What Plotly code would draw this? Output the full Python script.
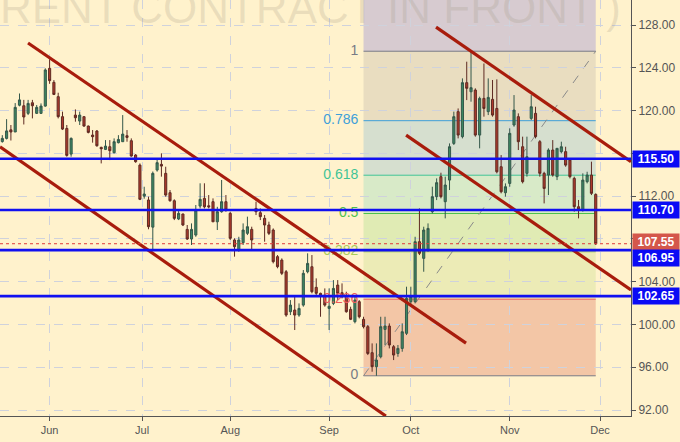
import plotly.graph_objects as go

# ---------------- data ----------------
opens = [117.1,117.4,118.2,118.0,120.5,120.45,119.74,120.73,119.74,119.74,
         120.42,123.95,122.64,121.3,119.43,118.33,115.93,119.58,119.02,119.43,
         118.55,117.71,118.09,116.56,116.37,116.62,116.06,117.0,117.09,117.65,
         117.18,115.84,114.9,112.0,111.64,109.1,114.44,114.97,114.13,112.32,
         111.57,109.86,110.33,108.89,107.99,108.36,111.07,111.79,111.1,111.48,
         109.6,110.54,111.48,110.39,107.9,106.96,107.65,108.52,108.89,110.85,
         110.45,109.92,109.3,108.83,106.34,106.02,104.93,101.19,101.35,100.88,
         101.81,104.93,105.4,103.47,102.91,102.75,101.5,101.97,103.68,102.97,
         102.66,101.41,100.26,102.13,100.48,99.79,97.36,96.05,96.98,99.54,
         99.85,97.92,97.29,97.76,99.17,102.13,102.13,107.74,106.18,106.96,
         110.54,111.95,113.82,111.48,113.5,116.93,119.9,117.56,122.61,121.76,
         121.92,117.71,121.14,119.9,121.05,120.2,114.75,112.32,113.19,118.65,
         119.43,116.62,114.13,119.27,119.74,117.09,114.13,113.97,116.31,113.82,
         116.16,116.16,115.37,113.66,111.01,110.7,113.35,113.97,112.16]
highs = [117.7,119.2,118.65,120.7,121.6,121.0,121.0,121.0,120.52,120.67,
         123.95,124.8,122.85,121.67,119.9,118.65,117.49,120.11,119.9,119.45,
         118.6,118.18,118.18,116.62,117.24,117.24,117.4,117.7,119.58,118.18,
         117.4,115.93,115.06,112.88,111.95,114.3,115.38,116.0,114.75,112.57,
         111.7,110.7,110.35,109.3,109.45,111.17,113.2,113.2,112.1,111.79,
         111.0,113.51,112.1,110.54,108.05,108.2,109.45,110.08,109.14,111.48,
         110.85,110.23,109.61,108.98,106.49,106.18,105.09,102.28,102.75,101.97,
         105.09,106.65,106.49,104.31,102.97,103.37,103.37,104.15,104.15,103.84,
         103.06,101.66,102.6,102.28,100.72,99.95,98.23,98.23,100.72,100.72,
         100.1,98.08,98.08,100.1,103.53,103.53,108.2,110.85,109.14,109.45,
         112.88,113.66,114.19,113.82,116.93,119.9,120.2,123.01,124.57,125.55,
         122.08,121.3,124.4,123.01,122.86,122.92,115.84,113.19,118.34,121.45,
         119.74,117.56,117.56,121.45,120.36,117.24,114.28,116.47,117.24,116.47,
         117.09,116.62,115.53,113.82,111.64,114.13,114.28,115.22,112.26]
lows = [117.0,117.3,117.2,118.0,120.4,118.7,119.58,119.27,119.68,119.68,
        120.36,122.5,121.45,119.27,118.18,115.69,115.69,118.96,118.65,118.49,
        117.87,117.0,116.62,115.06,116.31,115.37,116.0,116.93,117.09,117.09,
        115.69,115.12,111.63,111.76,108.9,106.96,114.29,113.82,111.95,111.48,
        109.76,109.76,109.2,107.9,107.43,108.2,110.85,110.85,110.85,109.6,
        108.83,110.45,110.54,107.9,106.34,106.8,107.43,108.36,106.96,110.23,
        109.76,107.74,108.36,105.71,105.25,104.62,100.72,100.88,99.48,100.72,
        101.66,104.78,102.91,102.75,100.72,101.66,99.48,101.81,102.28,102.44,
        101.1,100.41,100.1,100.57,99.63,97.14,95.58,95.2,96.83,98.08,
        97.76,96.67,96.98,97.45,99.01,101.66,101.97,106.49,104.93,106.8,
        110.39,111.63,111.79,109.92,112.57,116.78,117.4,117.4,120.98,120.83,
        117.56,116.47,119.43,119.58,119.43,114.13,112.26,111.95,112.88,118.49,
        116.31,113.19,113.82,119.12,117.4,113.82,111.32,112.1,113.82,113.5,
        116.0,114.75,113.66,110.55,109.92,110.55,113.19,112.1,107.43]
closes = [117.4,118.1,118.0,120.3,121.0,119.4,120.67,120.45,120.3,120.42,
          123.8,122.8,121.51,119.43,118.27,115.81,117.4,119.33,119.58,118.55,
          117.96,117.56,116.71,116.43,116.68,116.25,117.09,117.3,117.8,117.49,
          115.75,115.22,111.7,112.2,109.14,114.13,115.13,114.81,112.1,111.57,
          109.92,110.39,109.3,107.99,108.89,110.7,111.7,111.0,111.0,109.6,
          110.54,111.48,110.7,108.05,107.27,107.9,108.83,109.14,107.9,110.54,
          110.08,109.3,108.52,105.87,105.4,104.78,100.88,101.81,100.88,101.5,
          104.78,105.71,103.06,102.91,102.75,101.81,101.7,103.37,102.91,102.6,
          101.19,100.48,102.28,100.72,99.79,97.29,96.05,96.67,99.79,99.85,
          98.08,97.14,97.76,99.32,102.44,102.6,107.74,106.65,108.83,108.98,
          111.95,113.26,111.95,113.04,116.62,119.43,117.71,122.61,122.08,122.14,
          117.71,121.14,120.2,121.23,119.58,114.28,112.41,112.88,117.87,120.05,
          117.09,113.35,115.68,120.36,117.56,114.13,112.72,116.31,113.97,116.47,
          116.62,114.9,113.82,111.01,110.76,113.5,113.97,112.26,107.55]
bar_index = list(range(len(closes)))

month_labels = ["Jun", "Jul", "Aug", "Sep", "Oct", "Nov", "Dec"]
month_start_index = [11, 32.5, 53, 76, 95, 118, 139]

price_ticks = [92, 96, 100, 104, 108, 112, 116, 120, 124, 128]
hidden_price_ticks = [108, 116]  # covered by the price tags in the original

support_resistance = [115.50, 110.70, 106.95, 102.65]
last_price = 107.55

# fibonacci retracement anchors (bar index, price)
fib_x = [84, 138]
fib_price = [95.2, 125.55]
fib_levels = [0, 0.236, 0.382, 0.5, 0.618, 0.786, 1]
fib_level_names = ["0", "0.236", "0.382", "0.5", "0.618", "0.786", "1"]

# channel trend lines: (start index, start price, end index, end price)
channel_lines = [
    (5.98, 126.32, 107.84, 98.26),
    (-0.535, 116.62, 89.2, 91.44),
    (100.86, 127.81, 146.2, 115.22),
    (93.9, 117.71, 146.2, 103.22),
]

watermark = "RENT CONTRACT IN FRONT )"

# ---------------- styling ----------------
BG = "#fff2cc"
FONT = "Liberation Sans, Arial, sans-serif"
X_RANGE = [-0.535, 146.2]
Y_RANGE = [91.44, 130.34]
LABEL_GAP = 1.2  # gap (in bar units) between fib labels and the fib box

band_colors = ["#f3c6a6", "#ecebb6", "#e0ebb4", "#d8eac8", "#d6dfcf", "#e9ddc0", "#d7cbd0"]
line_colors = ["#787b86", "#f05a5a", "#a9cc5a", "#4cc24c", "#3fc496", "#3d9fd9", "#787b86"]

fig = go.Figure()

fib_prices = [fib_price[0] + r * (fib_price[1] - fib_price[0]) for r in fib_levels]

shapes = []
for k in range(len(fib_levels)):
    y0 = fib_prices[k]
    y1 = fib_prices[k + 1] if k + 1 < len(fib_levels) else Y_RANGE[1] + 5
    shapes.append(dict(type="rect", xref="x", yref="y", x0=fib_x[0], x1=fib_x[1],
                       y0=y0, y1=y1, fillcolor=band_colors[k], line=dict(width=0),
                       layer="below"))
for k, p in enumerate(fib_prices):
    shapes.append(dict(type="line", xref="x", yref="y", x0=fib_x[0], x1=fib_x[1],
                       y0=p, y1=p, line=dict(color=line_colors[k], width=1), layer="below"))
shapes.append(dict(type="line", xref="x", yref="y", x0=fib_x[0], x1=fib_x[1],
                   y0=fib_price[0], y1=fib_price[1],
                   line=dict(color="#8a8a8a", width=1, dash="dash"), layer="below"))
for (xa, ya, xb, yb) in channel_lines:
    shapes.append(dict(type="line", xref="x", yref="y", x0=xa, x1=xb, y0=ya, y1=yb,
                       line=dict(color="#a81c0c", width=3.2), layer="above"))
shapes.append(dict(type="line", xref="paper", yref="y", x0=0, x1=1, y0=last_price, y1=last_price,
                   line=dict(color="#e03a3a", width=1, dash="dot"), layer="above"))
for p in support_resistance:
    shapes.append(dict(type="line", xref="paper", yref="y", x0=0, x1=1, y0=p, y1=p,
                       line=dict(color="#1010f0", width=2.6), layer="above"))

for k, p in enumerate(fib_prices):
    fig.add_trace(go.Scatter(x=[fib_x[0] - LABEL_GAP], y=[p], mode="text", text=[fib_level_names[k]],
                             textposition="middle left",
                             textfont=dict(family=FONT, size=14, color=line_colors[k]),
                             hoverinfo="skip", showlegend=False))

fig.add_trace(go.Candlestick(
    x=bar_index, open=opens, high=highs, low=lows, close=closes,
    increasing=dict(line=dict(color="#34574a", width=1), fillcolor="#3c8862"),
    decreasing=dict(line=dict(color="#5e2a22", width=1), fillcolor="#b03a2c"),
    whiskerwidth=0, showlegend=False))

annotations = [dict(xref="paper", yref="paper", x=0, y=0.9817, xanchor="left", yanchor="middle",
                    xshift=-2, text=watermark, showarrow=False,
                    font=dict(family=FONT, size=44, color="rgba(160,150,130,0.22)"))]

def price_tag(p, color, yshift=0):
    return dict(xref="paper", yref="y", x=1, y=p, xanchor="left", yanchor="middle",
                xshift=1, yshift=yshift, text="<b>%.2f</b>" % p, showarrow=False,
                width=44, height=14, bgcolor=color, borderpad=1,
                font=dict(family=FONT, size=12, color="white"))

for p in [115.50, 110.70, 102.65]:
    annotations.append(price_tag(p, "#0a0af5"))
annotations.append(price_tag(last_price, "#d4574a", yshift=2))
annotations.append(price_tag(106.95, "#0a0af5", yshift=-8))

tick_text = ["" if t in hidden_price_ticks else "%.2f" % t for t in price_ticks]

fig.update_layout(
    width=680, height=442,
    margin=dict(l=0, r=49, t=0, b=26),
    paper_bgcolor=BG, plot_bgcolor=BG,
    shapes=shapes, annotations=annotations,
    showlegend=False,
    font=dict(family=FONT, size=12, color="#555555"),
    xaxis=dict(range=X_RANGE, rangeslider=dict(visible=False),
               tickvals=month_start_index, ticktext=month_labels,
               showgrid=True, gridcolor="#cfd2dc", griddash="dash", gridwidth=1,
               showline=True, linecolor="#555555", linewidth=1,
               ticks="outside", ticklen=4, tickcolor="#555555",
               tickfont=dict(family=FONT, size=11, color="#555555"), zeroline=False),
    yaxis=dict(range=Y_RANGE, side="right", tickvals=price_ticks, ticktext=tick_text,
               showgrid=True, gridcolor="#cfd2dc", griddash="dash", gridwidth=1,
               showline=True, linecolor="#555555", linewidth=1,
               ticks="outside", ticklen=4, tickcolor="#555555",
               tickfont=dict(family=FONT, size=12, color="#555555"), zeroline=False),
)

fig.write_html("out.html", config={"displayModeBar": False},
               post_script="document.body.style.margin='0';document.body.style.overflow='hidden';")
